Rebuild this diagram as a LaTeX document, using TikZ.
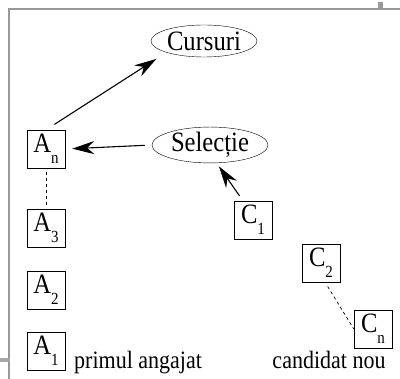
\documentclass[tikz,border=0pt]{standalone}
\usepackage{fontspec}
\setmainfont[FakeStretch=0.88]{Liberation Serif}
\usepackage{tikz}
\usetikzlibrary{shapes.geometric,arrows.meta}
\newcommand{\ind}[1]{\raisebox{-0.4em}{\fontsize{17}{17}\selectfont #1}}

\begin{document}
\begin{tikzpicture}[x=1pt,y=-1pt,font=\fontsize{28}{28}\selectfont,
  cutie/.style={draw,minimum size=38pt,inner sep=0pt},
  elipsa/.style={draw,ellipse,minimum width=106pt,minimum height=32pt,inner sep=0pt},
  eticheta/.style={anchor=base,inner sep=0pt,font=\fontsize{25}{25}\selectfont},
  sageata/.style={-{Stealth[length=22pt,width=13pt]},line width=1.1pt}]
\useasboundingbox (0,0) rectangle (400,379);
\draw[gray!80,line width=1.4pt] (400,9) -- (9,9) -- (9,379);   %cadru
\fill[gray!80] (378,2) rectangle (383,9);
\fill[gray!70] (0,358) rectangle (9,362);
\node[elipsa] (cursuri) at (204,41) {Cursuri};
\node[elipsa,minimum width=116pt,minimum height=34pt] (selectie) at (210,145) {Selecție};
\node[cutie] (an) at (46,149) {A\ind{n}};
\node[cutie] (a3) at (46,228) {A\ind{3}};
\node[cutie] (a2) at (46,290) {A\ind{2}};
\node[cutie] (a1) at (46,351) {A\ind{1}};
\node[cutie] (c1) at (253,220) {C\ind{1}};
\node[cutie] (c2) at (321,263) {C\ind{2}};
\node[cutie] (cn) at (373,329) {C\ind{n}};
\node[eticheta,anchor=base west] (primul) at (74,369) {primul angajat};
\node[eticheta] (candidat) at (329,369) {candidat nou};
\draw[sageata,shorten <=10pt,shorten >=12pt] (an.north) -- (cursuri.south west);
\draw[sageata,shorten <=7pt,shorten >=7pt] (selectie.west) -- (an.east);
\draw[sageata,shorten <=6pt,shorten >=4pt] ([xshift=-10pt]c1.north) -- (selectie.290);
\draw[dashed,line width=0.7pt,shorten <=4pt,shorten >=4pt] (an.south) -- (a3.north);
\draw[dashed,line width=0.7pt,shorten <=5pt] ([xshift=4pt]c2.south) -- (cn.west);
\end{tikzpicture}
\end{document}
